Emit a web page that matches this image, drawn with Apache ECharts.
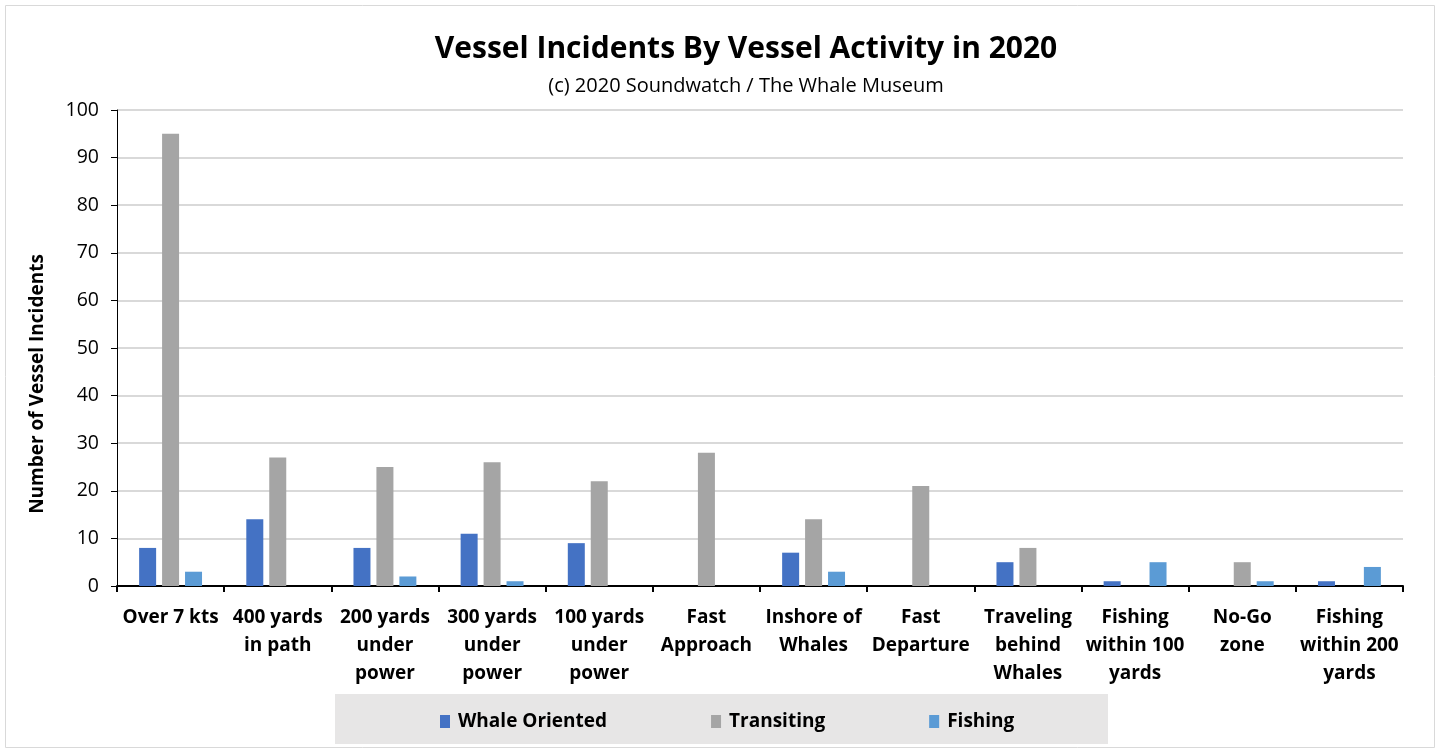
<!DOCTYPE html>
<html>
<head>
<meta charset="utf-8">
<script src="https://cdn.jsdelivr.net/npm/echarts@6/dist/echarts.min.js"></script>
<style>
html,body{margin:0;padding:0;background:#fff;}
#c{width:1440px;height:750px;}
</style>
</head>
<body>
<div id="c"></div>
<script>
const categories = [
  "Over 7 kts", "400 yards\nin path", "200 yards\nunder\npower", "300 yards\nunder\npower",
  "100 yards\nunder\npower", "Fast\nApproach", "Inshore of\nWhales", "Fast\nDeparture",
  "Traveling\nbehind\nWhales", "Fishing\nwithin 100\nyards", "No-Go\nzone", "Fishing\nwithin 200\nyards"
];
const whaleOriented = [8, 14, 8, 11, 9, 0, 7, 0, 5, 1, 0, 1];
const transiting = [95, 27, 25, 26, 22, 28, 14, 21, 8, 0, 5, 0];
const fishing = [3, 0, 2, 1, 0, 0, 3, 0, 0, 5, 1, 4];
const seriesNames = ["Whale Oriented", "Transiting", "Fishing"];
const titleText = "Vessel Incidents By Vessel Activity in 2020";
const subtitleText = "(c) 2020 Soundwatch / The Whale Museum";
const yAxisName = "Number of Vessel Incidents";

const FONT = "'Open Sans', 'Noto Sans', sans-serif";
const chart = echarts.init(document.getElementById('c'));
const colors = ['#4472c4', '#a5a5a5', '#5b9bd5'];

chart.setOption({
  animation: false,
  color: colors,
  textStyle: { fontFamily: FONT, color: '#000' },
  graphic: [
    { type: 'rect', shape: { x: 5.5, y: 5.5, width: 1429, height: 742 }, style: { fill: 'none', stroke: '#d9d9d9', lineWidth: 1 }, z: -10 },
    { type: 'rect', shape: { x: 335, y: 694, width: 773, height: 50 }, style: { fill: '#e7e6e6' }, z: -5 },
    { type: 'text', x: 746, y: 49, style: { text: titleText, font: "bold 30px " + FONT, fill: '#000', textAlign: 'center', textVerticalAlign: 'middle' } },
    { type: 'text', x: 746, y: 86, style: { text: subtitleText, font: "20px " + FONT, fill: '#000', textAlign: 'center', textVerticalAlign: 'middle' } },
    { type: 'text', x: 38, y: 384, rotation: Math.PI / 2, style: { text: yAxisName, font: "bold 19px " + FONT, fill: '#000', textAlign: 'center', textVerticalAlign: 'middle' } }
  ],
  legend: {
    data: seriesNames,
    left: 435,
    top: 707,
    itemWidth: 10,
    itemHeight: 13,
    itemGap: 104,
    icon: 'rect',
    textStyle: { fontFamily: FONT, fontWeight: 'bold', fontSize: 19, color: '#000', padding: [0, 0, 0, 3] }
  },
  grid: { left: 117, right: 37, top: 110, bottom: 164 },
  xAxis: {
    type: 'category',
    data: categories,
    axisLine: { lineStyle: { color: '#000', width: 2 } },
    axisTick: { show: true, length: 6, lineStyle: { color: '#000', width: 2 } },
    axisLabel: { interval: 0, fontFamily: FONT, fontWeight: 'bold', fontSize: 19, color: '#000', lineHeight: 28, margin: 18 }
  },
  yAxis: {
    type: 'value',
    min: 0, max: 100, interval: 10,
    axisLine: { show: true, lineStyle: { color: '#000', width: 1 } },
    axisTick: { show: true, length: 6, lineStyle: { color: '#000' } },
    axisLabel: { fontFamily: FONT, fontSize: 19.5, color: '#000', margin: 18 },
    splitLine: { lineStyle: { color: '#d9d9d9', width: 2 } }
  },
  series: [
    { name: seriesNames[0], type: 'bar', data: whaleOriented, barWidth: 17, barGap: '35%', itemStyle: { color: colors[0] } },
    { name: seriesNames[1], type: 'bar', data: transiting, barWidth: 17, barGap: '35%', itemStyle: { color: colors[1] } },
    { name: seriesNames[2], type: 'bar', data: fishing, barWidth: 17, barGap: '35%', itemStyle: { color: colors[2] } }
  ]
});
</script>
</body>
</html>
